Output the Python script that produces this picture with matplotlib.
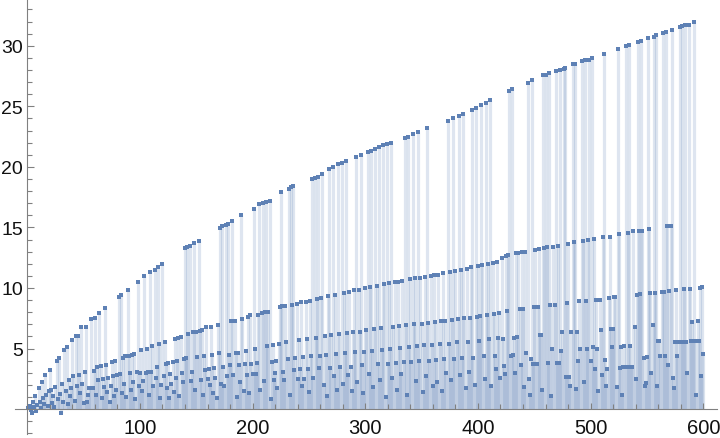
import matplotlib
matplotlib.use("Agg")
import matplotlib.pyplot as plt
from matplotlib.ticker import FixedLocator, MultipleLocator

# values for n = 1..600 (approximate)
vals_001_100 = [
    0.1, 0.25, -0.1, -0.3, 0.6, 0.15, 1.05, -0.2, 0.3, 1.7, 0.6, 0.1, 2.2, 0.9, 0.4, 2.85, 1.2, 0.25, 1.45, 3.2,
    1.6, 0.5, 1.1, 0.2, 1.85, 4.0, 0.8, 4.2, 1.25, -0.3, 2.1, 0.6, 4.85, 1.5, 5.1, 0.4, 2.4, 1.1, 1.7, 5.7,
    2.7, 0.7, 6.0, 1.9, 6.05, 2.85, 1.3, 6.75, 2.1, 0.5, 3.1, 6.8, 0.55, 1.2, 1.7, 1.75, 7.45, 1.76, 3.15, 7.55,
    1.2, 3.45, 2.4, 7.9, 3.55, 0.9, 2.5, 1.8, 8.35, 3.65, 1.4, 2.6, 0.6, 1.9, 3.85, 2.7, 1.1, 3.95, 1.6, 2.8,
    9.25, 2.9, 9.45, 1.3, 4.2, 2.1, 4.35, 1.0, 9.8, 4.35, 3.0, 1.6, 4.45, 2.2, 4.55, 0.8, 3.1, 10.5, 1.9, 2.95,
]
vals_101_200 = [
    4.9, 1.5, 2.3, 11.0, 3.0, 5.0, 3.05, 1.2, 11.3, 3.1, 5.2, 1.9, 11.5, 2.6, 3.5, 11.7, 5.35, 0.9, 2.0, 11.95,
    2.7, 5.5, 3.7, 1.7, 3.8, 0.9, 2.9, 2.1, 3.9, 1.4, 5.8, 2.6, 4.0, 5.9, 1.1, 5.95, 3.0, 2.2, 4.1, 13.3,
    4.2, 13.4, 6.2, 13.5, 2.3, 3.1, 6.35, 13.7, 1.6, 6.4, 4.3, 13.9, 6.45, 2.4, 6.5, 1.2, 4.4, 3.2, 6.75, 2.5,
    3.3, 2.0, 6.8, 4.5, 1.3, 3.4, 2.6, 0.9, 6.95, 4.6, 14.95, 2.1, 15.1, 3.5, 1.9, 15.2, 2.7, 15.3, 4.5, 3.6,
    7.3, 15.5, 2.8, 7.3, 4.6, 1.0, 4.65, 3.6, 2.2, 16.0, 7.4, 1.5, 3.7, 4.8, 2.8, 7.6, 1.3, 7.8, 3.75, 2.9,
]
vals_201_300 = [
    16.5, 5.0, 2.9, 3.8, 7.8, 16.9, 1.6, 7.95, 17.0, 2.3, 8.05, 17.1, 5.2, 8.05, 17.2, 0.8, 3.9, 5.3, 2.4, 3.0,
    4.0, 1.7, 5.4, 8.45, 17.9, 8.5, 3.1, 2.4, 8.5, 5.5, 4.1, 18.2, 1.2, 18.3, 8.6, 18.4, 3.2, 4.2, 8.65, 2.5,
    5.7, 3.3, 8.8, 1.9, 4.3, 2.5, 8.85, 5.8, 3.3, 1.4, 8.9, 4.35, 19.0, 2.6, 19.1, 5.9, 9.05, 19.2, 3.35, 4.4,
    9.2, 19.4, 2.0, 6.05, 4.45, 1.1, 9.3, 19.8, 3.4, 6.1, 20.0, 2.7, 9.4, 4.55, 1.6, 20.2, 6.2, 3.45, 20.3, 2.1,
    9.6, 4.6, 20.5, 6.3, 2.8, 9.7, 3.5, 1.5, 6.35, 9.8, 4.7, 20.8, 2.2, 9.85, 6.4, 21.0, 3.6, 1.3, 4.75, 10.0,
]
vals_301_400 = [
    6.5, 21.2, 2.9, 10.1, 21.3, 4.8, 1.8, 6.6, 21.5, 10.2, 3.7, 21.6, 2.4, 6.7, 4.9, 21.8, 10.3, 1.0, 21.9, 3.75,
    10.4, 5.0, 22.0, 2.6, 6.8, 10.5, 3.8, 1.6, 10.5, 6.85, 5.05, 2.9, 10.6, 3.85, 22.4, 6.9, 1.2, 22.5, 5.1, 10.7,
    3.9, 22.7, 7.0, 10.8, 2.3, 5.2, 22.9, 3.95, 10.85, 7.05, 1.4, 5.25, 10.9, 2.7, 23.2, 7.1, 3.98, 11.0, 5.3, 1.9,
    11.05, 7.2, 4.05, 2.2, 11.1, 5.35, 7.25, 1.5, 11.2, 4.1, 7.3, 3.0, 23.8, 5.4, 11.3, 2.4, 7.35, 24.0, 4.15, 11.4,
    5.5, 7.45, 24.2, 2.8, 11.5, 4.2, 24.4, 7.5, 1.7, 11.6, 5.55, 3.1, 7.55, 11.7, 24.7, 4.25, 2.0, 24.9, 7.6, 11.8,
]
vals_401_500 = [
    5.65, 7.7, 25.1, 11.9, 4.35, 2.5, 25.3, 7.8, 12.0, 5.75, 25.5, 1.9, 12.1, 7.85, 4.4, 3.3, 12.15, 5.85, 7.9, 2.6,
    12.5, 5.78, 3.52, 2.89, 12.6, 8.12, 12.7, 26.26, 4.4, 26.42, 4.46, 5.86, 2.95, 12.85, 5.97, 12.9, 8.26, 3.63, 12.95, 8.26,
    1.81, 13.0, 4.63, 26.92, 2.48, 1.15, 4.1, 27.17, 3.71, 8.45, 13.15, 3.71, 8.45, 13.2, 6.11, 6.11, 1.59, 27.58, 13.3, 27.58,
    13.35, 3.79, 27.75, 8.62, 1.1, 5.0, 13.4, 8.62, 27.91, 3.82, 13.45, 3.82, 28.0, 4.81, 6.4, 28.08, 28.16, 2.67, 8.75, 13.6,
    2.67, 1.93, 6.38, 28.49, 13.8, 28.49, 1.65, 6.38, 4.0, 8.94, 4.96, 28.74, 13.9, 2.2, 28.82, 8.94, 4.96, 13.95, 28.82, 4.0,
]
vals_501_600 = [
    28.98, 5.09, 14.04, 3.3, 9.0, 4.96, 1.5, 9.0, 6.55, 2.81, 14.23, 29.31, 4.07, 1.9, 3.3, 9.16, 14.23, 6.63, 5.12, 6.63,
    9.22, 9.22, 1.85, 29.73, 14.45, 3.38, 5.15, 1.2, 3.49, 5.23, 29.98, 3.47, 14.56, 30.06, 5.23, 3.47, 3.49, 14.67, 6.8, 2.5,
    9.44, 30.31, 14.67, 9.5, 30.39, 14.67, 4.22, 1.93, 2.15, 4.33, 30.64, 14.86, 9.6, 2.97, 6.9, 30.72, 9.6, 30.89, 1.93, 5.59,
    5.59, 4.35, 9.69, 31.05, 9.69, 4.41, 31.13, 15.14, 3.63, 9.74, 15.14, 31.3, 2.56, 1.76, 5.56, 9.82, 4.41, 5.56, 31.55, 5.56,
    31.63, 5.56, 9.9, 31.71, 5.56, 3.0, 31.71, 9.9, 5.58, 7.2, 5.61, 31.96, 5.61, 1.15, 7.29, 5.61, 9.99, 2.73, 10.1, 4.54,
]

x_tick_values = [100, 200, 300, 400, 500, 600]
y_tick_values = [5, 10, 15, 20, 25, 30]

values = vals_001_100 + vals_101_200 + vals_201_300 + vals_301_400 + vals_401_500 + vals_501_600
n = list(range(1, len(values) + 1))

color = "#5E81B5"
axis_color = "#808080"

fig = plt.figure(figsize=(7.2, 4.39), dpi=100)
ax = fig.add_axes([15 / 720, 4 / 439, 702 / 720, 435 / 439])
ax.set_xlim(-10.9, 612.2)
ax.set_ylim(-2.06, 33.86)

ax.vlines(n, 0, values, colors=color, alpha=0.2, linewidth=2.3, zorder=1)
ax.plot(n, values, linestyle="none", marker="s", markersize=2.3,
        color=color, markeredgewidth=0, zorder=3)

for s in ("top", "right"):
    ax.spines[s].set_visible(False)
ax.spines["left"].set_position(("data", 0))
ax.spines["bottom"].set_position(("data", 0))
for s in ("left", "bottom"):
    ax.spines[s].set_color(axis_color)
    ax.spines[s].set_linewidth(0.8)
    ax.spines[s].set_zorder(4)

ax.xaxis.set_major_locator(FixedLocator(x_tick_values))
ax.xaxis.set_minor_locator(MultipleLocator(20))
ax.yaxis.set_major_locator(FixedLocator(y_tick_values))
ax.yaxis.set_minor_locator(MultipleLocator(1))

font = "Liberation Sans"
ax.tick_params(axis="x", which="major", direction="in", length=4.2, width=0.8,
               color=axis_color, pad=6.5, labelsize=14.5, labelcolor="#111111")
ax.tick_params(axis="x", which="minor", direction="in", length=3.6, width=0.8,
               color=axis_color)
ax.tick_params(axis="y", which="major", direction="in", length=4.8, width=0.8,
               color=axis_color, pad=3.2, labelsize=14, labelcolor="#111111")
ax.tick_params(axis="y", which="minor", direction="in", length=3.4, width=0.8,
               color=axis_color)
for lab in ax.get_xticklabels() + ax.get_yticklabels():
    lab.set_fontfamily(font)

ax.patch.set_alpha(0)
fig.savefig("out.png", dpi=100)
